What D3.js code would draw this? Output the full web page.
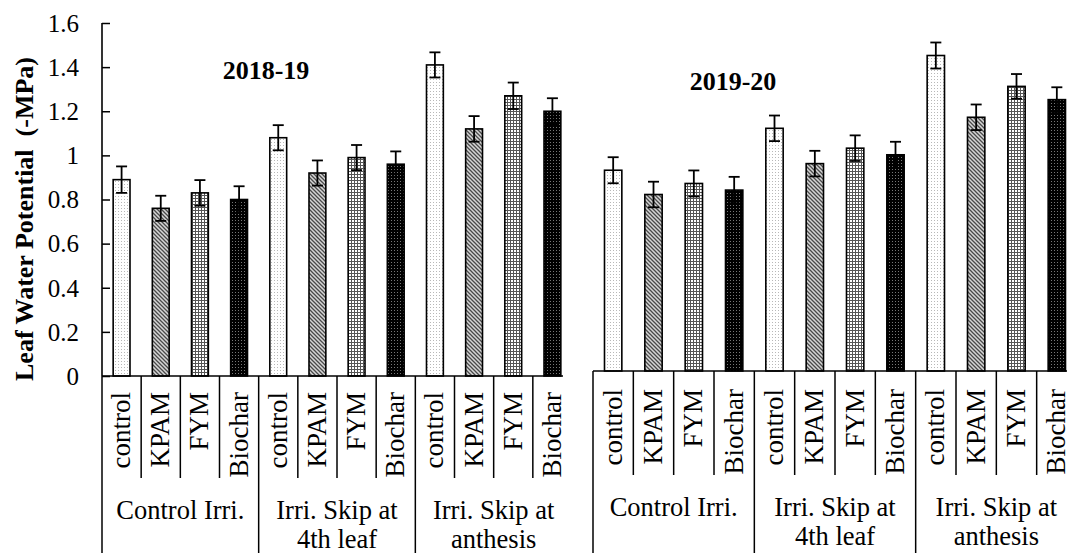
<!DOCTYPE html>
<html>
<head>
<meta charset="utf-8">
<script src="https://cdn.jsdelivr.net/npm/d3@7"></script>
<style>
  html, body { margin: 0; padding: 0; background: #fff; }
  svg { display: block; font-family: "Liberation Serif", "Times New Roman", serif; }
</style>
</head>
<body>
<svg id="chart" width="1067" height="553"></svg>
<script>
// Leaf water potential (-MPa) by irrigation regime and soil amendment
const treatments = ["control", "KPAM", "FYM", "Biochar"];
const irrigation = [["Control Irri."], ["Irri. Skip at", "4th leaf"], ["Irri. Skip at", "anthesis"]];
const yTickValues = [0, 0.2, 0.4, 0.6, 0.8, 1.0, 1.2, 1.4, 1.6];
const yTickLabels = ["0", "0.2", "0.4", "0.6", "0.8", "1", "1.2", "1.4", "1.6"];
const seasons = ["2018-19", "2019-20"];

// means, ordered irrigation × treatment
const lwp2018 = [0.89, 0.76, 0.83, 0.80, 1.08, 0.92, 0.99, 0.96, 1.41, 1.12, 1.27, 1.20];
const err2018 = [0.060, 0.057, 0.058, 0.060, 0.057, 0.057, 0.057, 0.058, 0.057, 0.058, 0.060, 0.059];
const lwp2019 = [0.91, 0.80, 0.85, 0.82, 1.10, 0.94, 1.01, 0.98, 1.43, 1.15, 1.29, 1.23];
const err2019 = [0.059, 0.058, 0.059, 0.060, 0.058, 0.058, 0.058, 0.059, 0.059, 0.058, 0.056, 0.056];

const svg = d3.select("#chart");
const defs = svg.append("defs");

// fill patterns, one per treatment
function makePattern(id, w, h, bg, draw) {
  const p = defs.append("pattern").attr("id", id)
    .attr("patternUnits", "userSpaceOnUse").attr("width", w).attr("height", h);
  p.append("rect").attr("width", w).attr("height", h).attr("fill", bg);
  draw(p);
}
makePattern("pat-control", 3, 3, "#ffffff", p =>
  p.append("rect").attr("x", 1).attr("y", 1).attr("width", 1).attr("height", 1).attr("fill", "#b8b8b8"));
makePattern("pat-KPAM", 4, 4, "#d6d6d6", p =>
  p.append("path").attr("d", "M-1,-1L5,5M-1,3L1,5M3,-1L5,1")
    .attr("stroke", "#4a4a4a").attr("stroke-width", 1.3));
makePattern("pat-FYM", 3, 3, "#ffffff", p =>
  p.append("path").attr("d", "M0.5,0V3M0,0.5H3")
    .attr("stroke", "#555").attr("stroke-width", 1));
makePattern("pat-Biochar", 3, 3, "#000000", p =>
  p.append("rect").attr("x", 1).attr("y", 1).attr("width", 1).attr("height", 1).attr("fill", "#777"));

const panels = [
  { title: seasons[0], values: lwp2018, errs: err2018, x0: 102, x1: 572, base: 376, titleX: 266, titleY: 79, showAxis: true, lblShift: 0, clipRight: 563 },
  { title: seasons[1], values: lwp2019, errs: err2019, x0: 593, x1: 1077, base: 371, titleX: 733, titleY: 90, showAxis: false, lblShift: -3, clipRight: 1067 }
];

const keys = [];
irrigation.forEach((g, gi) => treatments.forEach(t => keys.push(gi + "|" + t)));

panels.forEach(P => {
  const plotH = 353; // pixel height of 1.6 MPa
  const y = d3.scaleLinear().domain([0, 1.6]).range([P.base, P.base - plotH]);
  const cat = d3.scaleBand().domain(keys).range([P.x0, P.x1]).paddingInner(0.57).paddingOuter(0.285);
  const col = d3.scaleBand().domain(keys).range([P.x0, P.x1]).padding(0);
  const g = svg.append("g");
  const rows = keys.map((k, i) => ({ key: k, t: k.split("|")[1], v: P.values[i], e: P.errs[i] }));

  // bars
  g.selectAll("rect.bar").data(rows).join("rect").attr("class", "bar")
    .attr("x", d => cat(d.key)).attr("width", cat.bandwidth())
    .attr("y", d => y(d.v)).attr("height", d => y(0) - y(d.v))
    .attr("fill", d => `url(#pat-${d.t})`)
    .attr("stroke", "#000").attr("stroke-width", 1.6);

  // error bars
  const cx = d => cat(d.key) + cat.bandwidth() / 2;
  const eb = g.selectAll("g.err").data(rows).join("g").attr("class", "err")
    .attr("stroke", "#000").attr("stroke-width", 1.8);
  eb.append("line").attr("x1", cx).attr("x2", cx).attr("y1", d => y(d.v + d.e)).attr("y2", d => y(d.v - d.e));
  eb.append("line").attr("x1", d => cx(d) - 5.5).attr("x2", d => cx(d) + 5.5).attr("y1", d => y(d.v + d.e)).attr("y2", d => y(d.v + d.e));
  eb.append("line").attr("x1", d => cx(d) - 5.5).attr("x2", d => cx(d) + 5.5).attr("y1", d => y(d.v - d.e)).attr("y2", d => y(d.v - d.e));

  // y axis with inward ticks
  if (P.showAxis) {
    const ax = g.append("g").attr("transform", `translate(${P.x0},0)`)
      .call(d3.axisRight(y).tickValues(yTickValues).tickSize(8).tickFormat(() => ""));
    ax.select(".domain").remove();
    ax.selectAll(".tick line").attr("stroke", "#000").attr("stroke-width", 1.5);
    g.append("line").attr("x1", P.x0).attr("x2", P.x0).attr("y1", y(1.6)).attr("y2", P.base)
      .attr("stroke", "#000").attr("stroke-width", 1.6);
    g.selectAll("text.ytick").data(yTickValues).join("text").attr("class", "ytick")
      .attr("x", 79).attr("y", d => y(d)).attr("dy", "0.35em")
      .attr("text-anchor", "end").attr("font-size", 25)
      .text((d, i) => yTickLabels[i]);
  }

  // category axis line
  g.append("line").attr("x1", P.x0).attr("x2", P.clipRight).attr("y1", P.base).attr("y2", P.base)
    .attr("stroke", "#000").attr("stroke-width", 1.6);

  // separators between treatments (short) and irrigation groups (full)
  const sepBottom = 478 + P.lblShift;
  keys.forEach((k, i) => {
    const x = col(k);
    const full = i % 4 === 0;
    g.append("line").attr("x1", x).attr("x2", x).attr("y1", P.base).attr("y2", full ? 553 : sepBottom)
      .attr("stroke", "#000").attr("stroke-width", 1.5);
  });

  // treatment labels, rotated
  g.selectAll("text.trt").data(rows).join("text").attr("class", "trt")
    .attr("transform", d => `translate(${col(d.key) + col.bandwidth() / 2 + 8.5},${392 + P.lblShift}) rotate(-90)`)
    .attr("text-anchor", "end").attr("font-size", 27)
    .text(d => d.t);

  // irrigation group labels
  irrigation.forEach((lines, gi) => {
    const gx = col(gi + "|" + treatments[0]) + col.bandwidth() * 2;
    lines.forEach((ln, li) => {
      g.append("text").attr("x", gx).attr("y", 519 + P.lblShift + li * 29)
        .attr("text-anchor", "middle").attr("font-size", 26.5).text(ln);
    });
  });

  // season title
  g.append("text").attr("x", P.titleX).attr("y", P.titleY).attr("text-anchor", "middle")
    .attr("font-size", 26).attr("font-weight", "bold").text(P.title);
});

// y-axis title
svg.append("text")
  .attr("transform", "translate(33,219) rotate(-90)")
  .attr("text-anchor", "middle").attr("font-size", 26).attr("font-weight", "bold")
  .attr("xml:space", "preserve")
  .text("Leaf Water Potential  (-MPa)");
</script>
</body>
</html>
